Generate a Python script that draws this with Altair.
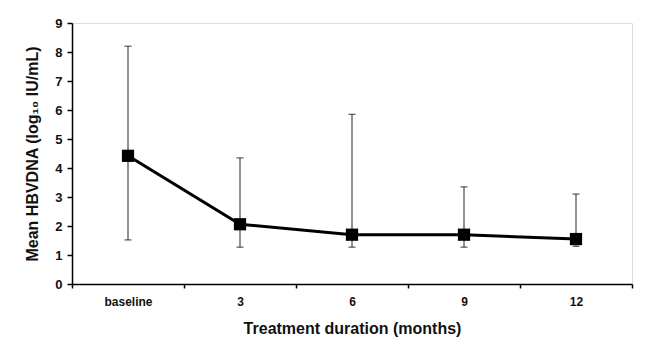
import altair as alt
import pandas as pd

categories = ["baseline", "3", "6", "9", "12"]
means = [4.42, 2.06, 1.70, 1.70, 1.55]
upper = [8.2, 4.35, 5.85, 3.35, 3.1]
lower = [1.52, 1.27, 1.27, 1.27, 1.30]
yticks = [0, 1, 2, 3, 4, 5, 6, 7, 8, 9]

df = pd.DataFrame({"cat": categories, "mean": means, "hi": upper, "lo": lower})

FONT = "Liberation Sans"
YTITLE = "Mean HBVDNA (log\u2081\u2080 IU/mL)"

x = alt.X("cat:N", sort=categories, title="Treatment duration (months)",
          scale=alt.Scale(paddingInner=0, paddingOuter=0),
          axis=alt.Axis(labelAngle=0, tickBand="extent", labelFont=FONT, labelFontWeight="bold",
                        labelFontSize=12, labelColor="#111", labelPadding=8,
                        titleFont=FONT, titleFontWeight="bold", titleFontSize=16,
                        titleColor="#111", titlePadding=13, domainColor="#000", domainWidth=1.5,
                        tickColor="#000", tickSize=4, tickWidth=1.5))
yscale = alt.Scale(domain=[0, 9], nice=False)
yaxis = alt.Axis(values=yticks, tickCount=10, grid=False, labelOverlap=False, labelFont=FONT,
                 labelFontWeight="bold", labelFontSize=13, labelColor="#111", labelPadding=5,
                 title=YTITLE, titleFont=FONT, titleFontWeight="bold",
                 titleFontSize=16, titleColor="#111", titlePadding=14,
                 domainColor="#000", domainWidth=1.5, tickColor="#000", tickSize=5, tickWidth=1.5)


def Y(field):
    return alt.Y(field, scale=yscale, axis=yaxis, title=YTITLE)


base = alt.Chart(df)

err = base.mark_rule(color="#222", strokeWidth=1).encode(x=x, y=Y("lo:Q"), y2="hi:Q")
cap_hi = base.mark_tick(color="#222", thickness=1.3, size=7).encode(x=x, y=Y("hi:Q"))
cap_lo = base.mark_tick(color="#222", thickness=1.3, size=7).encode(x=x, y=Y("lo:Q"))
line = base.mark_line(color="#000", strokeWidth=3).encode(x=x, y=Y("mean:Q"))
pts = base.mark_point(shape="square", filled=True, color="#000", size=150, opacity=1).encode(
    x=x, y=Y("mean:Q"))

chart = alt.layer(err, cap_hi, cap_lo, line, pts).properties(
    width=560, height=261,
    autosize=alt.AutoSizeParams(type="none"),
    padding={"left": 72, "top": 23, "right": 22, "bottom": 66},
).configure_view(stroke=None).configure(background="white")

chart.save("out.html", embed_options={"renderer": "svg", "actions": False})
